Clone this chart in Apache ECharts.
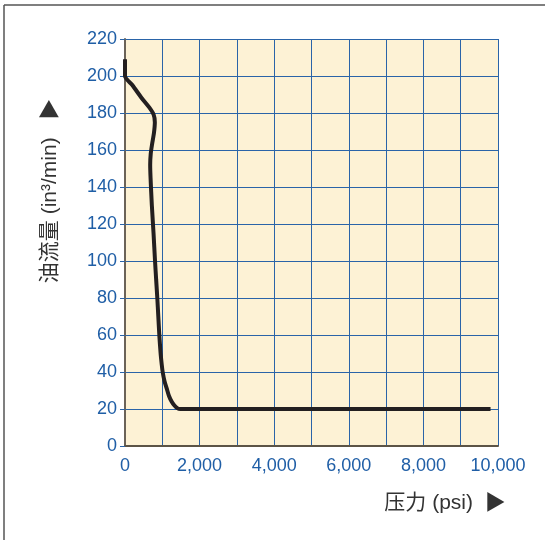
<!DOCTYPE html>
<html>
<head>
<meta charset="utf-8">
<script src="https://cdn.jsdelivr.net/npm/echarts@6/dist/echarts.min.js"></script>
<style>
  html, body { margin: 0; padding: 0; background: #fff; }
  #chart { width: 545px; height: 540px; }
</style>
</head>
<body>
<div id="chart"></div>
<script>
// 压力 (psi) 与 油流量 (in³/min)
const pressure = [0, 0, 200, 450, 650, 770, 800, 775, 725, 690, 675, 685, 720, 765, 805, 835, 866, 893, 920, 955, 985, 1010, 1060, 1120, 1180, 1250, 1320, 1400, 1480, 9800];
const flow = [209, 200, 195, 188, 183, 179, 175, 169, 163, 158, 152, 145, 130, 115, 100, 90, 80, 70, 60, 50, 44, 40, 35, 31, 27, 24, 22, 20.5, 20, 20];
const xLabelValues = [0, 2000, 4000, 6000, 8000, 10000];
const xAxisName = '压力 (psi)  ▶';
// rotated 90° counter-clockwise, so ▶ ends up pointing up
const yAxisName = '油流量 (in³/min)   ▶';

const chart = echarts.init(document.getElementById('chart'));

const blue = '#1f5ea6';
const font = '"Liberation Sans", Arial, sans-serif';

function fmtThousands(v) {
    return String(v).replace(/\B(?=(\d{3})+(?!\d))/g, ',');
}

const option = {
    animation: false,
    grid: { left: 125, top: 39, right: 47, bottom: 94, show: true, backgroundColor: '#fdf2d5', borderWidth: 0 },
    xAxis: {
        type: 'value', min: 0, max: 10000, interval: 1000,
        axisLine: { show: true, onZero: false, lineStyle: { color: '#5c5446', width: 2 } },
        axisTick: { show: false },
        splitLine: { show: true, lineStyle: { color: '#2a64a8', width: 1 } },
        axisLabel: {
            color: blue, fontSize: 18, fontFamily: font, margin: 11,
            formatter: v => xLabelValues.includes(v) ? fmtThousands(v) : ''
        }
    },
    yAxis: {
        type: 'value', min: 0, max: 220, interval: 20,
        axisLine: { show: true, lineStyle: { color: '#6b6358', width: 2 } },
        axisTick: { show: true, length: 5, lineStyle: { color: '#2a64a8' } },
        splitLine: { show: true, lineStyle: { color: '#2a64a8', width: 1 } },
        axisLabel: { color: blue, fontSize: 18, fontFamily: font, margin: 8 }
    },
    series: [{
        type: 'line',
        data: pressure.map((p, i) => [p, flow[i]]),
        showSymbol: false,
        smooth: 0.25,
        lineStyle: { color: '#231f20', width: 4 },
        z: 5
    }],
    graphic: [
        { type: 'line', shape: { x1: 4, y1: 5, x2: 545, y2: 5 }, style: { stroke: '#555', lineWidth: 1.5 } },
        { type: 'line', shape: { x1: 4, y1: 5, x2: 4, y2: 540 }, style: { stroke: '#555', lineWidth: 1.5 } },
        {
            type: 'text', x: 50, y: 191, rotation: Math.PI / 2,
            style: { text: yAxisName, fill: '#333', font: '21px "Liberation Sans", "Noto Sans CJK SC", sans-serif', align: 'center', verticalAlign: 'middle' }
        },
        {
            type: 'text', x: 445, y: 503,
            style: { text: xAxisName, fill: '#333', font: '21px "Liberation Sans", "Noto Sans CJK SC", sans-serif', align: 'center', verticalAlign: 'middle' }
        }
    ]
};

chart.setOption(option);
</script>
</body>
</html>
